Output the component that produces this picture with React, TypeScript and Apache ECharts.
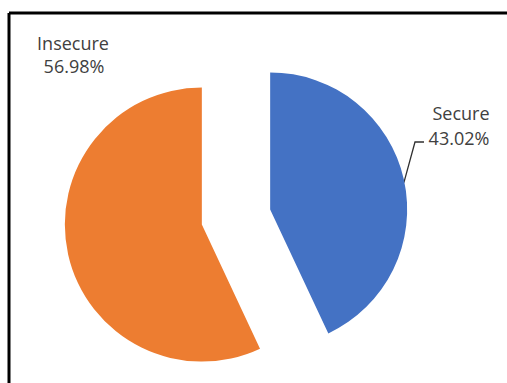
import React, { useEffect, useRef } from "react";
import * as echarts from "echarts";

const categories = ["Secure", "Insecure"];
const values = [43.02, 56.98];
const colors = ["#4472C4", "#ED7D31"];

const CENTER = [236, 217];
const RADIUS = 137;
const OFFSET = 35;
// label line centres: [nameX, nameY, pctX, pctY]
const labelPos: number[][] = [
  [461, 113, 459, 138],
  [73, 43, 74, 66],
];

export default function App() {
  const ref = useRef<HTMLDivElement>(null);
  useEffect(() => {
    if (!ref.current) return;
    const chart = echarts.init(ref.current, null, { renderer: "svg" });
    const total = values.reduce((a, b) => a + b, 0);
    const data = categories.map((name, i) => ({
      name,
      value: values[i],
      selected: true,
      itemStyle: { color: colors[i] },
    }));
    const font = {
      fontFamily: "Open Sans",
      fontSize: 18,
      fill: "#404040",
    };
    const texts: any[] = [];
    categories.forEach((name, i) => {
      const p = labelPos[i];
      const pct = ((values[i] / total) * 100).toFixed(2) + "%";
      texts.push({
        type: "text",
        x: p[0],
        y: p[1],
        style: { ...font, text: name, align: "center", verticalAlign: "middle" },
      });
      texts.push({
        type: "text",
        x: p[2],
        y: p[3],
        style: { ...font, text: pct, align: "center", verticalAlign: "middle" },
      });
    });
    // label line for first slice, starting on its outer arc at mid-angle
    const mid = ((values[0] / total) * 360) / 2;
    const rad = (mid * Math.PI) / 180;
    const sx = CENTER[0] + (RADIUS + OFFSET) * Math.sin(rad);
    const sy = CENTER[1] - (RADIUS + OFFSET) * Math.cos(rad) + 3;
    const ly = labelPos[0][3] + 4;
    const ex = labelPos[0][2] - 35;
    chart.setOption({
      animation: false,
      backgroundColor: "#ffffff",
      graphic: [
        {
          type: "line",
          shape: { x1: 9, y1: 13, x2: 507, y2: 13 },
          style: { stroke: "#000", lineWidth: 3 },
        },
        {
          type: "line",
          shape: { x1: 9, y1: 13, x2: 9, y2: 383 },
          style: { stroke: "#000", lineWidth: 3 },
        },
        {
          type: "polyline",
          shape: { points: [[sx, sy], [ex - 9, ly], [ex, ly]] },
          style: { stroke: "#303030", lineWidth: 1.3, fill: null },
        },
        ...texts,
      ],
      series: [
        {
          type: "pie",
          center: CENTER,
          radius: RADIUS,
          startAngle: 90,
          clockwise: true,
          selectedMode: "multiple",
          selectedOffset: OFFSET,
          emphasis: { disabled: true },
          label: { show: false },
          labelLine: { show: false },
          data,
        },
      ],
    });
    return () => chart.dispose();
  }, []);
  return (
    <div
      ref={ref}
      style={{ position: "fixed", left: 0, top: 0, width: 507, height: 383 }}
    />
  );
}
